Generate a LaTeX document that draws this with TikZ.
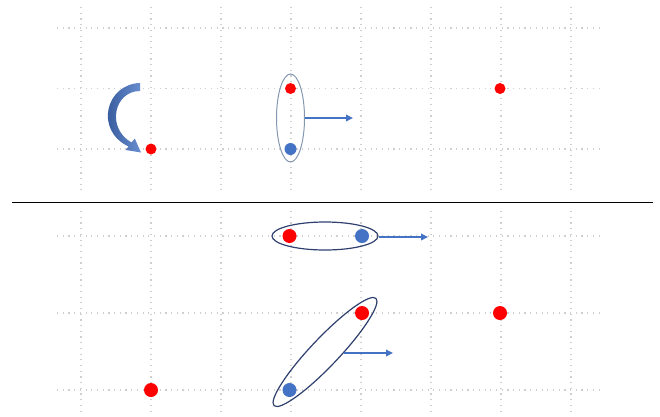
\documentclass[tikz,border=0pt]{standalone}
\usetikzlibrary{arrows.meta,shapes.geometric}
\definecolor{dotblue}{RGB}{68,114,196}
\definecolor{navy}{RGB}{47,64,110}
\definecolor{paleblue}{RGB}{132,151,176}
\definecolor{darkblue}{RGB}{38,74,140}
\begin{document}
\begin{tikzpicture}[x=1pt, y=-1pt,
    griddot/.style={gray!38, line width=1.2pt, dash pattern=on 1.2pt off 4.5pt},
    reddot/.style={circle, fill=red, inner sep=0pt, minimum size=#1},
    reddot/.default=11pt,
    bluedot/.style={circle, fill=dotblue, inner sep=0pt, minimum size=#1},
    bluedot/.default=12pt,
    shiftarrow/.style={dotblue, line width=1.9pt, -{Triangle[length=7pt, width=6.5pt]}}]
    \useasboundingbox (0,0) rectangle (660,416);
    % upper panel grid
    \foreach \x in {81,151,...,571}
        \draw[griddot] (\x,7) -- (\x,190);
    \foreach \y in {28,88.5,149}
        \draw[griddot] (57,\y) -- (601,\y);
    % lower panel grid
    \foreach \x in {81,151,...,571}
        \draw[griddot] (\x,211) -- (\x,416);
    \foreach \y in {236,313,390}
        \draw[griddot] (57,\y) -- (601,\y);
    \draw[line width=1pt] (12,202) -- (653,202);
    % upper panel
    \shade[left color=darkblue, right color=dotblue!80]
        (140,83) .. controls (106,84) and (94,130) .. (128.5,146.5)
        -- (125.8,150) -- (141,152.5) -- (134.8,138.5) -- (131.5,142.5)
        .. controls (106,128) and (114,91) .. (140,91) -- cycle;
    \node[reddot] (p1) at (151,149) {};
    \node[ellipse, draw=paleblue, line width=1pt, minimum width=28pt, minimum height=88pt] (e1) at (290.5,118) {};
    \node[reddot] (p2) at (290.5,88.5) {};
    \node[bluedot] (q2) at (290.5,149) {};
    \coordinate (t1) at (353,118);
    \draw[shiftarrow] (e1.east) -- (t1);
    \node[reddot] (p3) at (500,88.5) {};
    % lower panel
    \node[ellipse, draw=navy, line width=1.2pt, minimum width=106pt, minimum height=28pt] (e2) at (325,236) {};
    \node[reddot=14pt] (p4) at (289.5,236) {};
    \node[bluedot=14pt] (q4) at (362,236) {};
    \coordinate (t2) at (428,237);
    \draw[shiftarrow] (e2.east |- t2) -- (t2);
    \node[ellipse, draw=navy, line width=1.2pt, minimum width=148pt, minimum height=28pt, rotate=46.5] (e3) at (325,352) {};
    \node[bluedot=14pt] (q5) at (289.5,390) {};
    \node[reddot=14pt] (p5) at (362,313) {};
    \path (e3.center) ++(19,1) coordinate (s3);
    \coordinate (t3) at (393,353);
    \draw[shiftarrow] (s3) -- (t3);
    \node[reddot=14pt] (p6) at (500,313) {};
    \node[reddot=14pt] (p7) at (151,390) {};
\end{tikzpicture}
\end{document}
